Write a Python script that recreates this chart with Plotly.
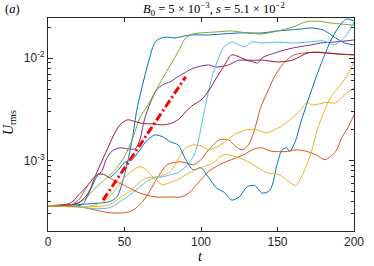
import plotly.graph_objects as go

# ---------------- data ----------------
t_blue1 = [0, 20, 30, 40, 45, 50, 55, 58, 61, 66, 70, 74, 78, 82, 93, 104, 125, 140, 150, 165, 172, 180, 188, 194, 200]
u_blue1 = [3.6e-4, 3.7e-4, 3.8e-4, 3.95e-4, 4.4e-4, 7.25e-4, 1.59e-3, 3.1e-3, 4.9e-3, 9.6e-3, 1.44e-2, 1.58e-2,
           1.61e-2, 1.58e-2, 1.69e-2, 1.69e-2, 1.77e-2, 1.77e-2, 1.85e-2, 1.93e-2, 1.98e-2, 1.89e-2, 1.58e-2,
           1.41e-2, 1.35e-2]

t_orange1 = [0, 20, 30, 40, 50, 55, 60, 65, 70, 78, 87, 95, 100, 105, 112, 118, 123, 127, 131, 135, 139, 144,
             148, 152, 156, 161, 175, 190, 200]
u_orange1 = [3.61e-4, 3.53e-4, 3.3e-4, 3.08e-4, 3.08e-4, 3.23e-4, 3.69e-4, 4.6e-4, 6.2e-4, 9.1e-4, 9.7e-4,
             9.1e-4, 1.02e-3, 1.27e-3, 1.59e-3, 1.59e-3, 1.36e-3, 1.27e-3, 1.42e-3, 2.0e-3, 3.3e-3, 4.9e-3,
             6.6e-3, 8.2e-3, 9.6e-3, 1.08e-2, 1.15e-2, 1.1e-2, 1.08e-2]

t_yellow1 = [0, 30, 40, 45, 50, 55, 60, 65, 70, 75, 80, 85, 90, 95, 100, 105, 112, 119, 124, 130, 136, 143,
             148, 152, 158, 165, 169, 173, 182, 188, 194, 200]
u_yellow1 = [3.61e-4, 3.53e-4, 3.69e-4, 4.1e-4, 4.6e-4, 5.2e-4, 6.2e-4, 6.8e-4, 6.9e-4, 7.1e-4, 7.8e-4,
             1.02e-3, 1.33e-3, 1.42e-3, 1.39e-3, 1.27e-3, 1.39e-3, 1.67e-3, 1.86e-3, 2.0e-3, 2.0e-3, 1.86e-3,
             2.0e-3, 2.13e-3, 2.5e-3, 3.1e-3, 3.7e-3, 3.5e-3, 3.7e-3, 3.65e-3, 4.4e-3, 5.1e-3]

t_purple = [0, 10, 15, 20, 25, 30, 35, 38, 42, 47, 52, 57, 60, 63, 67, 71, 75, 80, 85, 90, 95, 105, 110, 118,
            125, 132, 137, 140, 150, 160, 172, 178, 187, 200]
u_purple = [3.61e-4, 3.69e-4, 3.86e-4, 4.6e-4, 5.5e-4, 6.8e-4, 7.8e-4, 1.02e-3, 1.24e-3, 1.33e-3, 1.3e-3,
            1.3e-3, 1.59e-3, 2.5e-3, 3.7e-3, 4.9e-3, 5.5e-3, 5.9e-3, 6.6e-3, 7.3e-3, 8.0e-3, 8.6e-3, 8.2e-3,
            8.6e-3, 9.6e-3, 9.4e-3, 9.0e-3, 1.01e-2, 1.15e-2, 1.26e-2, 1.35e-2, 1.41e-2, 1.44e-2, 1.51e-2]

t_green = [0, 15, 20, 25, 30, 35, 40, 45, 50, 55, 60, 65, 70, 75, 80, 85, 90, 95, 100, 110, 120, 130, 140, 150,
           160, 168, 175, 185, 200]
u_green = [3.61e-4, 3.69e-4, 3.86e-4, 4.3e-4, 5.2e-4, 6.1e-4, 7.1e-4, 8.5e-4, 1.09e-3, 1.59e-3, 2.61e-3,
           3.42e-3, 4.69e-3, 6.4e-3, 8.6e-3, 1.15e-2, 1.58e-2, 1.73e-2, 1.77e-2, 1.81e-2, 1.85e-2, 1.77e-2,
           1.73e-2, 1.85e-2, 2.02e-2, 2.26e-2, 2.31e-2, 2.21e-2, 2.11e-2]

t_cyan = [0, 20, 30, 40, 45, 50, 55, 60, 65, 70, 75, 80, 85, 90, 95, 98, 100, 103, 107, 111, 115, 120, 125,
          129, 133, 140, 150, 160, 170, 180, 187, 192, 196, 200]
u_cyan = [3.61e-4, 3.53e-4, 3.37e-4, 3.45e-4, 3.78e-4, 4.23e-4, 4.8e-4, 5.5e-4, 6.33e-4, 6.8e-4, 6.9e-4,
          7.25e-4, 7.6e-4, 8.7e-4, 1.09e-3, 1.49e-3, 2.09e-3, 3.5e-3, 6.4e-3, 9.6e-3, 1.29e-2, 1.44e-2,
          1.35e-2, 1.29e-2, 1.44e-2, 1.41e-2, 1.44e-2, 1.41e-2, 1.44e-2, 1.48e-2, 1.35e-2, 1.51e-2, 1.77e-2,
          2.26e-2]

t_darkred = [0, 15, 20, 25, 28, 31, 35, 40, 43, 47, 52, 57, 62, 68, 75, 80, 85, 90, 95, 100, 105, 110, 115,
             120, 125, 130, 140, 150, 160, 170, 180, 190, 200]
u_darkred = [3.61e-4, 3.69e-4, 3.86e-4, 4.5e-4, 5.4e-4, 7.1e-4, 9.7e-4, 1.42e-3, 1.78e-3, 2.23e-3, 2.5e-3,
             2.4e-3, 2.3e-3, 2.28e-3, 2.23e-3, 2.3e-3, 2.5e-3, 3.0e-3, 3.5e-3, 3.9e-3, 4.8e-3, 6.4e-3, 8.4e-3,
             1.08e-2, 1.03e-2, 9.6e-3, 9.6e-3, 9.2e-3, 9.6e-3, 1.13e-2, 1.13e-2, 1.1e-2, 1.08e-2]

t_blue2 = [0, 22, 27, 33, 37, 40, 45, 50, 55, 60, 65, 70, 75, 80, 85, 90, 95, 100, 105, 110, 115, 120, 125,
           130, 135, 140, 145, 150, 153, 156, 158, 162, 165, 170, 175, 180, 185, 190, 195, 200]
u_blue2 = [3.61e-4, 3.69e-4, 4.9e-4, 7.25e-4, 7.25e-4, 6.8e-4, 7.8e-4, 9.5e-4, 1.02e-3, 1.27e-3, 1.59e-3,
           1.78e-3, 1.7e-3, 1.52e-3, 1.42e-3, 1.02e-3, 8.1e-4, 8.5e-4, 6.8e-4, 5.4e-4, 4.9e-4, 4.1e-4, 4.4e-4,
           5.5e-4, 5.7e-4, 4.8e-4, 5.1e-4, 9.5e-4, 1.27e-3, 1.33e-3, 1.22e-3, 1.59e-3, 2.3e-3, 3.9e-3, 6.4e-3,
           1.01e-2, 1.51e-2, 2.02e-2, 2.42e-2, 2.31e-2]

t_orange2 = [0, 15, 20, 25, 30, 33, 37, 42, 50, 55, 60, 70, 80, 87, 92, 100, 105, 112, 120, 128, 135, 140,
             145, 155, 162, 168, 175, 181, 188, 192, 196, 200]
u_orange2 = [3.61e-4, 3.69e-4, 4.1e-4, 5.4e-4, 6.8e-4, 7.4e-4, 7.25e-4, 6.5e-4, 5.7e-4, 5.2e-4, 4.8e-4,
             4.4e-4, 4.4e-4, 4.4e-4, 4.8e-4, 6.5e-4, 7.8e-4, 9.1e-4, 1.02e-3, 1.14e-3, 1.3e-3, 1.33e-3,
             1.24e-3, 1.22e-3, 1.27e-3, 1.24e-3, 1.14e-3, 1.02e-3, 1.22e-3, 1.67e-3, 2.09e-3, 2.8e-3]

t_yellow2 = [0, 25, 35, 40, 45, 50, 55, 60, 65, 70, 75, 80, 85, 90, 95, 100, 108, 115, 121, 128, 134, 143,
             151, 158, 162, 166, 172, 176, 180, 185, 190, 195, 200]
u_yellow2 = [3.61e-4, 3.53e-4, 3.86e-4, 4.4e-4, 5.4e-4, 6.8e-4, 7.93e-4, 8.7e-4, 7.93e-4, 6.5e-4, 5.8e-4,
             6.1e-4, 6.5e-4, 7.25e-4, 7.93e-4, 8.5e-4, 9.5e-4, 1.14e-3, 1.11e-3, 1.02e-3, 9.1e-4, 7.6e-4,
             7.25e-4, 6.1e-4, 5.7e-4, 7.1e-4, 1.19e-3, 2.0e-3, 2.9e-3, 4.2e-3, 5.2e-3, 6.6e-3, 9.2e-3]

t_fit = [36, 90]
u_fit = [4.1e-4, 6.6e-3]

series = [
    (t_blue1, u_blue1, "#0072BD"),
    (t_orange1, u_orange1, "#D95319"),
    (t_yellow1, u_yellow1, "#EDB120"),
    (t_purple, u_purple, "#7E2F8E"),
    (t_green, u_green, "#77AC30"),
    (t_cyan, u_cyan, "#4DBEEE"),
    (t_darkred, u_darkred, "#A2142F"),
    (t_blue2, u_blue2, "#0072BD"),
    (t_orange2, u_orange2, "#D95319"),
    (t_yellow2, u_yellow2, "#EDB120"),
]

x_ticks = [0, 50, 100, 150, 200]
y_ticks = [1e-3, 1e-2]
y_ticktext = ["10<sup>-3</sup>", "10<sup>-2</sup>"]
y_minor = [3e-4, 4e-4, 5e-4, 6e-4, 7e-4, 8e-4, 9e-4,
           2e-3, 3e-3, 4e-3, 5e-3, 6e-3, 7e-3, 8e-3, 9e-3, 2e-2]

fig = go.Figure()
for t, u, c in series:
    fig.add_trace(go.Scatter(x=t, y=u, mode="lines",
                             line=dict(color=c, width=1, shape="spline", smoothing=0.8),
                             hoverinfo="skip"))
fig.add_trace(go.Scatter(x=t_fit, y=u_fit, mode="lines",
                         line=dict(color="#FF0000", width=3, dash="8px,3px,2px,3px"),
                         hoverinfo="skip"))

axcol = "#262626"
serif = "Liberation Serif, DejaVu Serif, serif"
fig.update_layout(
    width=374, height=266,
    margin=dict(l=48, r=10, t=18, b=35),
    paper_bgcolor="white", plot_bgcolor="white",
    showlegend=False,
    font=dict(family="Liberation Sans, Arial, sans-serif", size=12, color=axcol),
    xaxis=dict(range=[0, 200], tickvals=x_ticks, ticks="inside", ticklen=4, tickcolor=axcol,
               showline=True, linecolor=axcol, linewidth=1, mirror="allticks",
               showgrid=False, zeroline=False, tickfont=dict(size=12),
               ticklabeloverflow="allow"),
    yaxis=dict(type="log", range=[-3.69, -1.606], tickvals=y_ticks, ticktext=y_ticktext,
               ticks="inside", ticklen=5, tickcolor=axcol,
               minor=dict(ticks="inside", ticklen=3, tickvals=y_minor, tickcolor=axcol, showgrid=False),
               showline=True, linecolor=axcol, linewidth=1, mirror="allticks",
               showgrid=False, zeroline=False, tickfont=dict(size=12)),
    annotations=[
        dict(text="<i>B</i><sub>0</sub> = 5 × 10<sup>−3</sup>, <i>s</i> = 5.1 × 10<sup>−2</sup>",
             xref="paper", yref="paper", x=0.544, y=1.04, xanchor="center", yanchor="middle",
             showarrow=False, font=dict(family=serif, size=12.5, color="black")),
        dict(text="(<i>a</i>)", xref="paper", yref="paper", x=-0.117, y=1.04,
             xanchor="center", yanchor="middle", showarrow=False,
             font=dict(family=serif, size=12.5, color="black")),
        dict(text="<i>U</i><sub>rms</sub>", xref="paper", yref="paper", x=-0.125, y=0.51,
             xanchor="center", yanchor="middle", textangle=-90, showarrow=False,
             font=dict(family=serif, size=14, color="black")),
        dict(text="<i>t</i>", xref="paper", yref="paper", x=0.497, y=-0.122,
             xanchor="center", yanchor="middle", showarrow=False,
             font=dict(family=serif, size=14, color="black")),
    ],
)

fig.write_html("out.html", config={"displayModeBar": False},
               post_script="document.body.style.margin='0';document.body.style.padding='0';")
